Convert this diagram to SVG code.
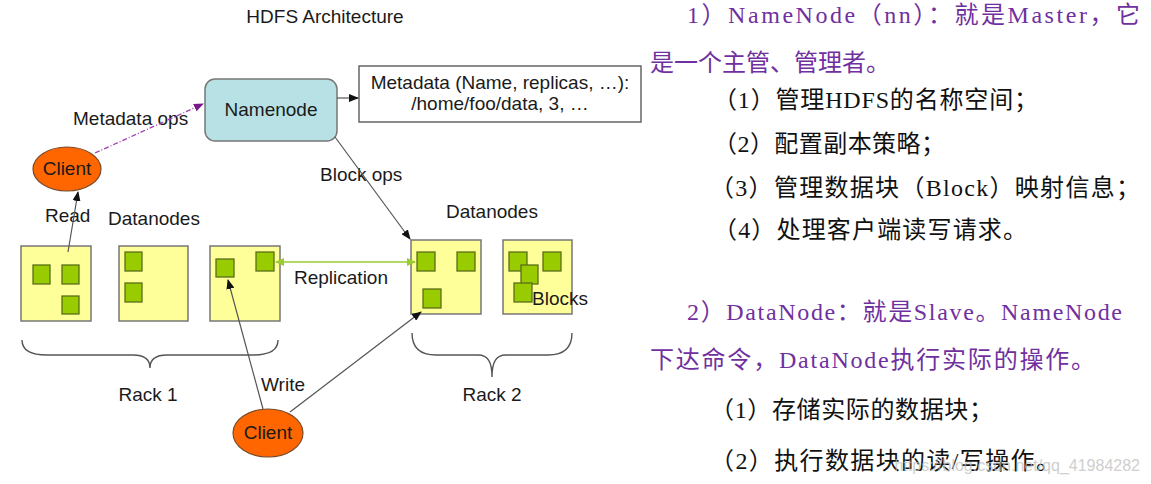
<svg xmlns="http://www.w3.org/2000/svg" width="1151" height="484" viewBox="0 0 1151 484">
<style>
.t{font-family:"Liberation Sans",Arial,sans-serif;font-size:19px;fill:#1a1a1a}
.c{text-anchor:middle}
.box{fill:#ffff99;stroke:#777;stroke-width:1.5}
.blk{fill:#99cc00;stroke:#5a6e1a;stroke-width:1.3}
.ln{stroke:#555;stroke-width:1.2;fill:none}
.br{stroke:#555;stroke-width:1.4;fill:none}
.cl{fill:#ff6600;stroke:#7a4a2a;stroke-width:1.2}
.zh{font-family:"Liberation Serif","Noto Sans CJK SC",serif;font-size:24px}
.p{fill:#7030a0}
.k{fill:#111}
</style>
<defs>
<marker id="ah" markerWidth="10" markerHeight="8" refX="9" refY="4" orient="auto" markerUnits="userSpaceOnUse"><path d="M0,0 L10,4 L0,8 z" fill="#111"/></marker>
<marker id="ap" markerWidth="10" markerHeight="8" refX="9" refY="4" orient="auto" markerUnits="userSpaceOnUse"><path d="M0,0 L10,4 L0,8 z" fill="#7a1a8a"/></marker>
<marker id="ag" markerWidth="9" markerHeight="8" refX="8" refY="4" orient="auto-start-reverse" markerUnits="userSpaceOnUse"><path d="M0,0 L9,4 L0,8 z" fill="#99cc33"/></marker>
</defs>

<text class="t c" x="325" y="23">HDFS Architecture</text>

<g id="namenode">
<rect x="205" y="79" width="132" height="62" rx="10" fill="#b7e1e4" stroke="#777" stroke-width="1.5"/>
<text class="t c" x="271" y="116">Namenode</text>
</g>

<g id="metadata">
<rect x="359" y="66" width="282" height="56" fill="#fff" stroke="#666" stroke-width="1.5"/>
<text class="t c" x="500" y="89">Metadata (Name, replicas, …):</text>
<text class="t c" x="500" y="110">/home/foo/data, 3, …</text>
</g>

<g id="client-read">
<ellipse class="cl" cx="67" cy="169" rx="34" ry="22"/>
<text class="t c" x="67" y="175">Client</text>
</g>

<g id="client-write">
<ellipse class="cl" cx="268" cy="433" rx="35" ry="24"/>
<text class="t c" x="268" y="439">Client</text>
</g>

<g id="labels">
<text class="t" x="73" y="125">Metadata ops</text>
<text class="t" x="320" y="181">Block ops</text>
<text class="t" x="45" y="222">Read</text>
<text class="t" x="108" y="225">Datanodes</text>
<text class="t" x="446" y="218">Datanodes</text>
<text class="t" x="294" y="284">Replication</text>
<text class="t" x="261" y="391">Write</text>
<text class="t c" x="148" y="401">Rack 1</text>
<text class="t c" x="492" y="401">Rack 2</text>
</g>

<g id="rack1">
<rect class="box" x="21" y="246" width="70" height="75"/>
<rect class="blk" x="33" y="265" width="17" height="19"/>
<rect class="blk" x="62" y="265" width="17" height="19"/>
<rect class="blk" x="62" y="296" width="17" height="18"/>
<rect class="box" x="119" y="246" width="69" height="75"/>
<rect class="blk" x="125" y="252" width="17" height="19"/>
<rect class="blk" x="125" y="283" width="17" height="19"/>
<rect class="box" x="210" y="246" width="70" height="75"/>
<rect class="blk" x="216" y="259" width="18" height="18"/>
<rect class="blk" x="256" y="252" width="18" height="19"/>
<path class="br" d="M22,340 C22,351 32,355 47,355 L133,355 C144,355 150,359 150,368 C150,359 156,355 167,355 L253,355 C268,355 278,351 278,340"/>
</g>

<g id="rack2">
<rect class="box" x="411" y="240" width="70" height="74"/>
<rect class="blk" x="417" y="252" width="18" height="19"/>
<rect class="blk" x="457" y="252" width="18" height="19"/>
<rect class="blk" x="423" y="289" width="18" height="19"/>
<rect class="box" x="503" y="240" width="69" height="74"/>
<rect class="blk" x="509" y="252" width="18" height="19"/>
<rect class="blk" x="543" y="252" width="18" height="19"/>
<rect class="blk" x="521" y="265" width="17" height="19"/>
<rect class="blk" x="514" y="283" width="18" height="19"/>
<text class="t" x="532" y="305">Blocks</text>
<path class="br" d="M412,333 C412,348 420,355 436,355 L478,355 C488,355 492,362 492,377 C492,362 496,355 506,355 L548,355 C564,355 572,348 572,333"/>
</g>

<g id="connectors">
<line x1="95" y1="153" x2="203" y2="104" stroke="#a040b0" stroke-width="1.3" stroke-dasharray="5,2,1,2" marker-end="url(#ap)"/>
<line class="ln" x1="337" y1="98" x2="358" y2="98" marker-end="url(#ah)"/>
<line class="ln" x1="335" y1="137" x2="410" y2="239" marker-end="url(#ah)"/>
<line class="ln" x1="68" y1="252" x2="78" y2="192" marker-end="url(#ah)"/>
<line x1="276" y1="262" x2="415" y2="262" stroke="#99cc33" stroke-width="1.6" marker-start="url(#ag)" marker-end="url(#ag)"/>
<line class="ln" x1="263" y1="409" x2="228" y2="280" marker-end="url(#ah)"/>
<line class="ln" x1="290" y1="412" x2="421" y2="312" marker-end="url(#ah)"/>
</g>

<g id="notes">
<text class="zh p" x="687" y="23" textLength="453">1）NameNode（nn）：就是Master，它</text>
<text class="zh p" x="650" y="71">是一个主管、管理者。</text>
<text class="zh k" x="713" y="108" textLength="325">（1）管理HDFS的名称空间；</text>
<text class="zh k" x="713" y="152" textLength="232">（2）配置副本策略；</text>
<text class="zh k" x="710" y="196" textLength="430">（3）管理数据块（Block）映射信息；</text>
<text class="zh k" x="713" y="238" textLength="314">（4）处理客户端读写请求。</text>
<text class="zh p" x="687" y="320" textLength="435">2）DataNode：就是Slave。NameNode</text>
<text class="zh p" x="650" y="368" textLength="445">下达命令，DataNode执行实际的操作。</text>
<text class="zh k" x="710" y="418" textLength="283">（1）存储实际的数据块；</text>
<text class="zh k" x="710" y="469" textLength="350">（2）执行数据块的读/写操作。</text>
<text x="1140" y="471" text-anchor="end" font-family="Liberation Sans,Arial,sans-serif" font-size="16" fill="#bbb" opacity="0.7">https://blog.csdn.net/qq_41984282</text>
</g>
</svg>
